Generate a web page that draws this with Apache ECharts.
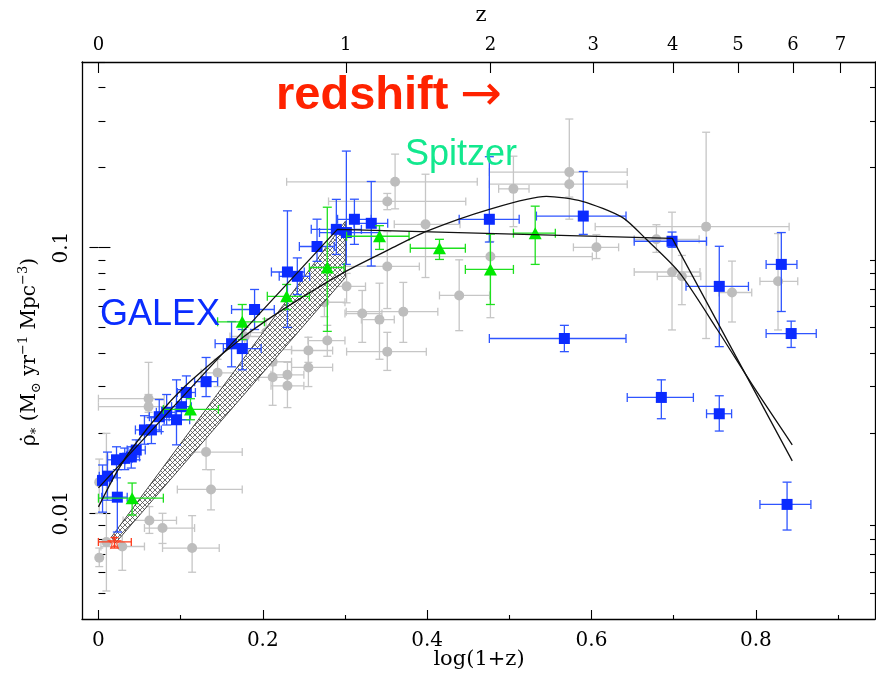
<!DOCTYPE html>
<html><head><meta charset="utf-8">
<script src="https://cdn.jsdelivr.net/npm/echarts@6/dist/echarts.min.js"></script>
<style>html,body{margin:0;padding:0;background:#fff}#c{width:876px;height:674px}</style>
</head><body><div id="c"></div>
<script>
// rows: [log(1+z), rho, xLow, xHigh, rhoLow, rhoHigh]
const grayPts = [
[0.001,0.0068,0.001,0.001,0.0063,0.0074],
[0.0097,0.0078,0.0,0.020,0.0051,0.0200],
[0.029,0.0075,0.003,0.056,0.0061,0.0086],
[0.062,0.0094,0.030,0.095,0.0084,0.0106],
[0.078,0.0088,0.056,0.117,0.0077,0.0100],
[0.114,0.0074,0.078,0.147,0.0060,0.0098],
[0.131,0.0170,0.0985,0.175,0.0146,0.0200],
[0.137,0.0123,0.096,0.175,0.0103,0.0146],
[0.061,0.0270,0.0,0.080,0.0240,0.0370],
[0.061,0.0252,0.0,0.080,0.0230,0.0280],
[0.145,0.0338,0.125,0.170,0.0300,0.0380],
[0.204,0.0479,0.185,0.225,0.0430,0.0540],
[0.212,0.0413,0.190,0.235,0.0370,0.0460],
[0.212,0.0372,0.190,0.235,0.0330,0.0420],
[0.212,0.0325,0.195,0.230,0.0255,0.0360],
[0.230,0.0332,0.210,0.250,0.0300,0.0370],
[0.230,0.0302,0.210,0.250,0.0250,0.0340],
[0.2555,0.0410,0.235,0.285,0.0370,0.0460],
[0.2555,0.0354,0.235,0.285,0.0300,0.0400],
[0.2785,0.0447,0.255,0.300,0.0390,0.0510],
[0.3515,0.0406,0.302,0.399,0.0345,0.0480],
[0.361,0.1770,0.229,0.461,0.1400,0.2250],
[0.3515,0.1493,0.280,0.447,0.1390,0.1600],
[0.398,0.1224,0.360,0.440,0.0772,0.1890],
[0.3515,0.0850,0.281,0.3905,0.0590,0.1150],
[0.302,0.0715,0.280,0.325,0.0620,0.0800],
[0.321,0.0565,0.300,0.345,0.0440,0.0690],
[0.342,0.0536,0.320,0.360,0.0380,0.0735],
[0.371,0.0574,0.3015,0.413,0.0440,0.0740],
[0.439,0.0661,0.415,0.476,0.0487,0.0900],
[0.477,0.0926,0.281,0.601,0.0545,0.1055],
[0.505,0.1665,0.487,0.524,0.1200,0.2210],
[0.573,0.1925,0.4757,0.6435,0.1280,0.3050],
[0.573,0.1734,0.4757,0.6435,0.1550,0.1950],
[0.606,0.1003,0.578,0.633,0.0910,0.1120],
[0.679,0.1075,0.652,0.731,0.0960,0.1220],
[0.698,0.0810,0.652,0.732,0.0490,0.1360],
[0.710,0.0780,0.680,0.733,0.0610,0.0935],
[0.7395,0.1200,0.6045,0.8405,0.0455,0.2720],
[0.771,0.0678,0.755,0.795,0.0525,0.0890],
[0.827,0.0747,0.805,0.851,0.0490,0.1130],
[0.001,0.0131,0.0,0.005,0.0100,0.0160],
[0.178,0.0463,0.160,0.200,0.0410,0.0520],
[0.275,0.0623,0.250,0.300,0.0550,0.0700]
];
const bluePts = [
[0.005,0.0133,-0.001,0.0134,0.0101,0.0152],
[0.011,0.0138,0.001,0.023,0.0112,0.0170],
[0.022,0.0159,0.011,0.033,0.0136,0.0178],
[0.032,0.0161,0.022,0.041,0.0146,0.0176],
[0.040,0.0163,0.030,0.050,0.0148,0.0178],
[0.046,0.0173,0.035,0.057,0.0159,0.0189],
[0.056,0.0206,0.045,0.068,0.0182,0.0233],
[0.0645,0.0206,0.0535,0.0765,0.0183,0.0229],
[0.074,0.0231,0.062,0.086,0.0203,0.0268],
[0.083,0.0240,0.0705,0.0935,0.0215,0.0280],
[0.095,0.0225,0.080,0.111,0.0181,0.0318],
[0.101,0.0252,0.089,0.113,0.0225,0.0292],
[0.107,0.0285,0.096,0.118,0.0245,0.0329],
[0.131,0.0313,0.117,0.145,0.0275,0.0386],
[0.023,0.0115,0.004,0.035,0.0085,0.0146],
[0.162,0.0435,0.142,0.181,0.0356,0.0527],
[0.175,0.0417,0.152,0.198,0.0347,0.0492],
[0.190,0.0585,0.162,0.214,0.0492,0.0696],
[0.230,0.0810,0.2105,0.2505,0.0501,0.1376],
[0.242,0.0780,0.220,0.257,0.0666,0.0915],
[0.266,0.101,0.2445,0.287,0.0888,0.128],
[0.2895,0.1172,0.259,0.320,0.0943,0.152],
[0.3017,0.1140,0.269,0.342,0.0865,0.231],
[0.3115,0.1279,0.291,0.332,0.1029,0.1522],
[0.332,0.1235,0.311,0.352,0.0853,0.1775],
[0.4757,0.1279,0.439,0.512,0.1050,0.2200],
[0.590,0.1315,0.533,0.642,0.1122,0.1935],
[0.698,0.1057,0.652,0.740,0.1003,0.1145],
[0.7555,0.0715,0.715,0.791,0.0424,0.1012],
[0.831,0.0865,0.8125,0.850,0.0575,0.1140],
[0.843,0.0475,0.8125,0.8735,0.0421,0.0529],
[0.567,0.0455,0.4757,0.642,0.0406,0.0510],
[0.685,0.0273,0.6435,0.724,0.0227,0.0318],
[0.7555,0.0237,0.740,0.7705,0.0204,0.0277],
[0.838,0.0108,0.805,0.867,0.00865,0.0131]
];
const greenPts = [
[0.041,0.0114,0.0,0.079,0.00985,0.0130],
[0.112,0.0246,0.079,0.146,0.0225,0.0270],
[0.175,0.0526,0.145,0.202,0.0451,0.0611],
[0.229,0.0656,0.2055,0.2567,0.0585,0.0727],
[0.2785,0.0842,0.2567,0.299,0.0484,0.142],
[0.342,0.1104,0.302,0.378,0.0985,0.1210],
[0.415,0.0995,0.3795,0.4465,0.0903,0.1075],
[0.477,0.0828,0.4465,0.505,0.0611,0.1125],
[0.5315,0.1134,0.505,0.556,0.0865,0.1433]
];
const redPts = [[0.0195,0.0078,0.0,0.040,0.0074,0.0081]];
const fitPiecewise = [[0,0.01246],[0.2908,0.1172],[0.6983,0.1084],[0.8443,0.01575]];
const fitSmooth = [[0,0.01057],[0.0212,0.0141],[0.0414,0.01765],[0.0792,0.0247],[0.1139,0.0318],[0.176,0.046],[0.2304,0.0601],[0.301,0.0814],[0.354,0.0985],[0.399,0.1152],[0.4757,0.1395],[0.545,0.1561],[0.5888,0.1495],[0.6375,0.130],[0.6667,0.1075],[0.7068,0.0807],[0.753,0.0492],[0.798,0.0297],[0.8443,0.0181]];
const bandUpper = [[0.0158,0.00814],[0.3005,0.1257]];
const bandLower = [[0.0207,0.00773],[0.3005,0.0772]];
const xMajorTicks = [0,0.2,0.4,0.6,0.8];
const xMinorTicks = [0.1,0.3,0.5,0.7,0.9];
const zTickLabels = [0,1,2,3,4,5,6,7];
const yMajorTicks = [0.01,0.1];
const yMinorTicks = [0.005,0.006,0.007,0.008,0.009,0.02,0.03,0.04,0.05,0.06,0.07,0.08,0.09,0.2,0.3,0.4,0.5];

const X0=-0.02, X1=0.945, Y0=0.004, Y1=0.5;
const L0=Math.log10(Y0), L1=Math.log10(Y1);
const serif='DejaVu Serif';
const zTickPos = zTickLabels.map(z=>Math.log10(1+z));

const hc=document.createElement('canvas'); hc.width=5; hc.height=5;
const g=hc.getContext('2d'); g.fillStyle='#fff'; g.fillRect(0,0,5,5);
g.strokeStyle='#4a4a4a'; g.lineWidth=0.8; g.beginPath();
g.moveTo(0,0); g.lineTo(5,5); g.moveTo(0,5); g.lineTo(5,0); g.stroke();

function errBars(color, cap){
  return function(params, api){
    const x=api.value(0), y=api.value(1), xl=api.value(2), xh=api.value(3), yl=api.value(4), yh=api.value(5);
    const Lp=api.coord([xl,y]), Rp=api.coord([xh,y]), Tp=api.coord([x,yh]), Bp=api.coord([x,yl]);
    const ch=[];
    const ln=(x1,y1,x2,y2)=>ch.push({type:'line',shape:{x1,y1,x2,y2},style:{stroke:color,lineWidth:1.3,fill:null}});
    if(xh>xl){ ln(Lp[0],Lp[1],Rp[0],Rp[1]); ln(Lp[0],Lp[1]-cap,Lp[0],Lp[1]+cap); ln(Rp[0],Rp[1]-cap,Rp[0],Rp[1]+cap); }
    if(yh>yl){ ln(Tp[0],Tp[1],Bp[0],Bp[1]); ln(Tp[0]-cap,Tp[1],Tp[0]+cap,Tp[1]); ln(Bp[0]-cap,Bp[1],Bp[0]+cap,Bp[1]); }
    return {type:'group',children:ch};
  };
}
const axLine={show:true,onZero:false,lineStyle:{color:'#000',width:1.3}};
const tickStyle={color:'#000',width:1.1};
const lblFont={fontFamily:serif,fontSize:20,color:'#000'};
function yv(extra){ return Object.assign({type:'value',min:L0,max:L1,splitLine:{show:false},axisLine:{show:false},axisLabel:{show:false}},extra); }

const chart=echarts.init(document.getElementById('c'),null,{renderer:'canvas',width:876,height:674});
const starPath='path://M50,0 L61,35 L98,35 L68,57 L79,91 L50,70 L21,91 L32,57 L2,35 L39,35 Z';
chart.setOption({
  animation:false,
  backgroundColor:'#fff',
  grid:{left:82,top:62,width:793,height:557,containLabel:false},
  xAxis:[
    {type:'value',position:'bottom',min:X0,max:X1,splitLine:{show:false},axisLine:axLine,
     axisTick:{show:true,inside:true,length:9,customValues:xMajorTicks,lineStyle:tickStyle},
     axisLabel:Object.assign({customValues:xMajorTicks,margin:12,formatter:v=>Math.abs(v)<1e-9?'0':v.toFixed(1)},lblFont)},
    {type:'value',position:'bottom',min:X0,max:X1,splitLine:{show:false},axisLine:{show:false},
     axisTick:{show:true,inside:true,length:4,customValues:xMinorTicks,lineStyle:tickStyle},axisLabel:{show:false}},
    {type:'value',position:'top',min:X0,max:X1,splitLine:{show:false},axisLine:axLine,
     axisTick:{show:true,inside:true,length:11,customValues:zTickPos,lineStyle:tickStyle},
     axisLabel:Object.assign({customValues:zTickPos,margin:8,formatter:v=>{let i=zTickPos.findIndex(p=>Math.abs(p-v)<1e-6);return i<0?'':String(zTickLabels[i]);}},lblFont,{fontSize:18})}
  ],
  yAxis:[
    {type:'log',logBase:10,min:Y0,max:Y1,position:'left',splitLine:{show:false},axisLine:axLine,axisTick:{show:false},axisLabel:{show:false},minorTick:{show:false}},
    yv({position:'left',axisTick:{show:true,inside:true,length:12,customValues:yMajorTicks.map(Math.log10),lineStyle:tickStyle},
        axisLabel:Object.assign({show:true,customValues:yMajorTicks.map(Math.log10),rotate:90,margin:10,formatter:v=>{let i=yMajorTicks.findIndex(t=>Math.abs(Math.log10(t)-v)<1e-6);return i<0?'':String(yMajorTicks[i]);}},lblFont)}),
    yv({position:'left',axisTick:{show:true,inside:true,length:7,customValues:yMinorTicks.map(Math.log10),lineStyle:tickStyle}}),
    {type:'log',logBase:10,min:Y0,max:Y1,position:'right',splitLine:{show:false},axisLine:axLine,axisTick:{show:false},axisLabel:{show:false}},
    yv({position:'right',axisTick:{show:true,inside:true,length:9,customValues:yMajorTicks.map(Math.log10),lineStyle:tickStyle}}),
    yv({position:'right',axisTick:{show:true,inside:true,length:5,customValues:yMinorTicks.map(Math.log10),lineStyle:tickStyle}})
  ],
  series:[
    {type:'custom',name:'gray-err',renderItem:errBars('#c6c6c6',4),data:grayPts,encode:{x:0,y:1},clip:true,z:1,silent:true},
    {type:'scatter',name:'gray',data:grayPts.map(p=>[p[0],p[1]]),symbol:'circle',symbolSize:10,itemStyle:{color:'#bdbdbd',opacity:1},z:1,silent:true},
    {type:'custom',name:'band',data:[bandUpper[0]],encode:{x:0,y:1},clip:true,z:2,silent:true,
     renderItem:(params,api)=>{const pts=bandUpper.map(p=>api.coord(p)).concat(bandLower.slice().reverse().map(p=>api.coord(p)));
       return {type:'polygon',shape:{points:pts},style:{fill:{image:hc,repeat:'repeat'},stroke:'#333',lineWidth:0.9}};}},
    {type:'custom',name:'blue-err',renderItem:errBars('#2f55ff',4.5),data:bluePts,encode:{x:0,y:1},clip:true,z:3,silent:true},
    {type:'scatter',name:'blue',data:bluePts.map(p=>[p[0],p[1]]),symbol:'rect',symbolSize:11,itemStyle:{color:'#0b2bff',opacity:1},z:3,silent:true},
    {type:'custom',name:'green-err',renderItem:errBars('#1ee01e',4.5),data:greenPts,encode:{x:0,y:1},clip:true,z:4,silent:true},
    {type:'scatter',name:'green',data:greenPts.map(p=>[p[0],p[1]]),symbol:'triangle',symbolSize:[13,12],itemStyle:{color:'#00e800',opacity:1},z:4,silent:true},
    {type:'line',name:'fit1',data:fitPiecewise,showSymbol:false,symbol:'none',lineStyle:{color:'#111',width:1.3},z:5,silent:true},
    {type:'line',name:'fit2',data:fitSmooth,showSymbol:false,symbol:'none',smooth:0.25,lineStyle:{color:'#111',width:1.3},z:5,silent:true},
    {type:'custom',name:'red-err',renderItem:errBars('#ff3b1a',4),data:redPts,encode:{x:0,y:1},clip:true,z:6,silent:true},
    {type:'scatter',name:'red',data:redPts.map(p=>[p[0],p[1]]),symbol:starPath,symbolSize:12,itemStyle:{color:'rgba(0,0,0,0)',borderColor:'#ff3b1a',borderWidth:1.2},z:6,silent:true}
  ],
  graphic:[
    {type:'text',x:276,y:96,z:10,style:{text:'redshift',font:'bold 47px "Liberation Sans"',fill:'#ff2200',verticalAlign:'middle',textVerticalAlign:'middle'}},
    {type:'text',x:460,y:97,z:10,style:{text:'→',font:'50px "DejaVu Sans"',fill:'#ff2200',verticalAlign:'middle',textVerticalAlign:'middle'}},
    {type:'text',x:405,y:155,z:10,style:{text:'Spitzer',font:'36px "Liberation Sans"',fill:'#12e88e',verticalAlign:'middle',textVerticalAlign:'middle'}},
    {type:'text',x:100,y:315,z:10,style:{text:'GALEX',font:'36px "Liberation Sans"',fill:'#0a2cff',verticalAlign:'middle',textVerticalAlign:'middle'}},
    {type:'text',x:479,y:660,z:10,style:{text:'log(1+z)',font:'21px "DejaVu Serif"',fill:'#000',align:'center',textAlign:'center',verticalAlign:'middle',textVerticalAlign:'middle'}},
    {type:'text',x:481,y:16,z:10,style:{text:'z',font:'21px "DejaVu Serif"',fill:'#000',align:'center',textAlign:'center',verticalAlign:'middle',textVerticalAlign:'middle'}},
    {type:'text',x:30,y:352,rotation:Math.PI/2,z:10,style:{
      text:'{a|ρ̇}{s|*}{a| (M}{s|⊙}{a| yr}{p|−1}{a| Mpc}{p|−3}{a|)}',
      align:'center',textAlign:'center',verticalAlign:'middle',textVerticalAlign:'middle',fill:'#000',
      rich:{a:{fontFamily:serif,fontSize:20,lineHeight:26,verticalAlign:'middle',fill:'#000'},
            s:{fontFamily:serif,fontSize:13,lineHeight:14,verticalAlign:'bottom',fill:'#000'},
            p:{fontFamily:serif,fontSize:13,lineHeight:14,verticalAlign:'top',fill:'#000'}}}}
  ]
});
</script></body></html>
